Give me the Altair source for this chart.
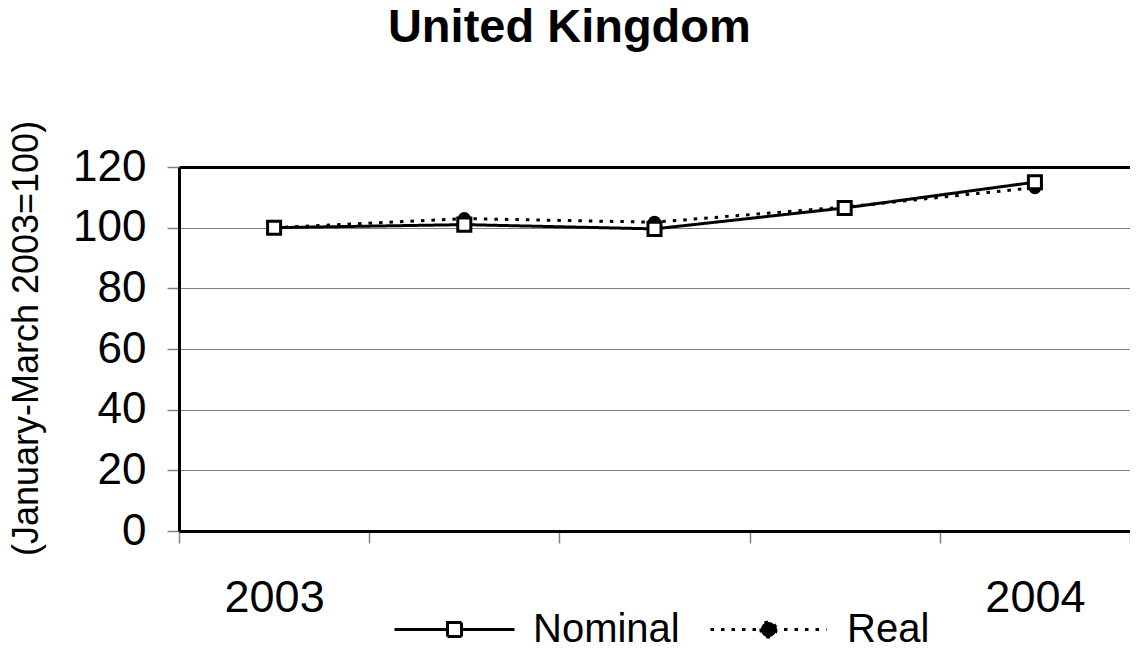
import altair as alt
import pandas as pd

# ---- data ----
quarters = ["2003 Q1", "2003 Q2", "2003 Q3", "2003 Q4", "2004 Q1"]
nominal = [100.0, 101.0, 99.6, 106.5, 115.0]
real = [100.0, 103.0, 101.8, 106.8, 113.2]
y_ticks = [0, 20, 40, 60, 80, 100, 120]

df_nom = pd.DataFrame({"quarter": quarters, "series": "Nominal", "value": nominal})
df_real = pd.DataFrame({"quarter": quarters, "series": "Real", "value": real})

FONT = "Liberation Sans"
GRAY = "#808080"

nom_path = "M-3,0L-0.35,0M0.35,0L3,0M-0.35,-0.35L0.35,-0.35L0.35,0.35L-0.35,0.35Z"
real_path = "M-2.9,0L2.9,0M0.38,0A0.38,0.38,0,1,1,-0.38,0A0.38,0.38,0,1,1,0.38,0Z"

x_scale = alt.Scale(type="band", paddingInner=0, paddingOuter=0)
y_scale = alt.Scale(domain=[0, 120], nice=False)

x_bottom = alt.X(
    "quarter:N",
    sort=quarters,
    scale=x_scale,
    axis=alt.Axis(
        orient="bottom",
        title=None,
        grid=False,
        tickBand="extent",
        tickSize=12,
        tickColor=GRAY,
        tickWidth=1.5,
        domainColor="black",
        domainWidth=3,
        labelExpr="(datum.value != null && indexof(datum.value + '', 'Q1') >= 0) ? slice(datum.value + '', 0, 4) : ''",
        labelFont=FONT,
        labelFontSize=45,
        labelColor="black",
        labelPadding=32,
        labelAngle=0,
        labelOverlap=False,
        labelFlush=False,
    ),
)

x_top = alt.X(
    "quarter:N",
    sort=quarters,
    scale=x_scale,
    axis=alt.Axis(
        orient="top",
        title=None,
        grid=False,
        labels=False,
        ticks=False,
        domainColor="black",
        domainWidth=3,
    ),
)

x_none = alt.X("quarter:N", sort=quarters, scale=x_scale, axis=None)

y_enc = alt.Y(
    "value:Q",
    scale=y_scale,
    axis=alt.Axis(
        values=y_ticks,
        title="(January-March 2003=100)",
        titleFont=FONT,
        titleFontSize=36,
        titleFontWeight="normal",
        titleColor="black",
        titleAngle=270,
        titleX=-142,
        titleY=171,
        titleAlign="center",
        titleBaseline="alphabetic",
        grid=True,
        gridColor=GRAY,
        gridWidth=1,
        tickSize=12,
        tickColor=GRAY,
        tickWidth=1.5,
        domainColor="black",
        domainWidth=3,
        labelFont=FONT,
        labelFontSize=44,
        labelColor="black",
        labelPadding=21,
    ),
)


def legend_for(path, fill, x):
    return alt.Legend(
        title=None,
        orient="none",
        legendX=x,
        legendY=441,
        labelFont=FONT,
        labelFontSize=40,
        labelColor="black",
        labelOffset=57,
        symbolSize=1600,
        symbolStrokeWidth=3,
        symbolStrokeColor="black",
        symbolType=path,
        symbolFillColor=fill,
    )


nom_line = alt.Chart(df_nom).mark_line(color="black", strokeWidth=3).encode(
    x=x_bottom,
    y=y_enc,
    strokeDash=alt.StrokeDash(
        "series:N",
        scale=alt.Scale(domain=["Nominal"], range=[[1, 0]]),
        legend=legend_for(nom_path, "white", 254),
    ),
)

real_line = alt.Chart(df_real).mark_line(color="black", strokeWidth=3).encode(
    x=x_top,
    y=y_enc,
    strokeDash=alt.StrokeDash(
        "series:N",
        scale=alt.Scale(domain=["Real"], range=[[3.5, 7]]),
        legend=legend_for(real_path, "black", 568),
    ),
)

real_pts = alt.Chart(df_real).mark_point(
    shape="circle", filled=True, color="black", size=170, opacity=1
).encode(x=x_none, y=y_enc)

nom_pts = alt.Chart(df_nom).mark_point(
    shape="square", filled=False, fill="white", fillOpacity=1, stroke="black",
    strokeWidth=3, size=170, opacity=1
).encode(x=x_none, y=y_enc)

chart = (
    alt.layer(nom_line, real_line, real_pts, nom_pts)
    .resolve_axis(x="independent")
    .resolve_scale(strokeDash="independent")
    .properties(
        width=951,
        height=364,
        autosize=alt.AutoSizeParams(type="none"),
        padding={"left": 171, "top": 159, "right": 0, "bottom": 115},
        title=alt.TitleParams(
            "United Kingdom",
            font=FONT,
            fontSize=47,
            fontWeight="bold",
            color="black",
            anchor="middle",
            frame="bounds",
            offset=68,
        ),
    )
    .configure(background="white")
    .configure_view(strokeWidth=0)
)

chart.save("out.html", embed_options={"renderer": "svg", "actions": False})
